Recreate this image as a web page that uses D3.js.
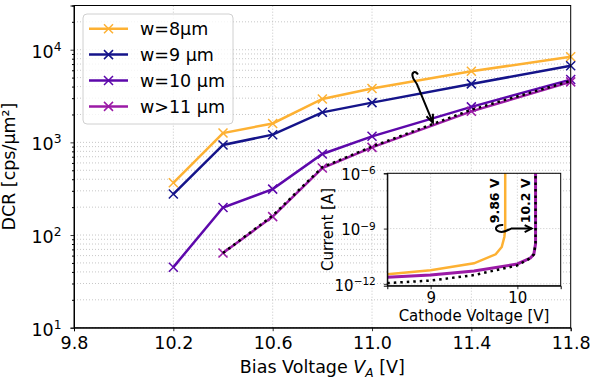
<!DOCTYPE html>
<html>
<head>
<meta charset="utf-8">
<script src="https://cdn.jsdelivr.net/npm/d3@7"></script>
<style>
  body { margin: 0; background: #fff; }
  text { font-family: "DejaVu Sans", sans-serif; }
</style>
</head>
<body>
<svg id="chart" width="590" height="383"></svg>
<script>
// ** Data (main plot) **
const biasV = [10.2, 10.4, 10.6, 10.8, 11.0, 11.4, 11.8];
const dcrW8  = [366, 1260, 1600, 2940, 3810, 5860, 8380];
const dcrW9  = [277, 938, 1211, 2110, 2685, 4276, 6700];
const dcrW10 = [45, 198, 313, 750, 1162, 2415, 4760];
const dcrW11 = [null, 64, 158, 528, 883, 2163, 4500];
const simBiasV = [10.4, 10.6, 10.8, 11.0, 11.4, 11.8];
const simDCR   = [64, 162, 540, 900, 2250, 4600];
const seriesNames = ["w=8μm", "w=9 μm", "w=10 μm", "w>11 μm"];
const xTicks = [9.8, 10.2, 10.6, 11.0, 11.4, 11.8];
const yTicks = [10, 100, 1000, 10000];

// ** Data (inset) **
const insetV8  = [8.5, 9.0, 9.5, 9.75, 9.82, 9.85, 9.86, 9.86];
const insetI8  = [3.3e-12, 5.5e-12, 1.3e-11, 4e-11, 1e-10, 3.5e-10, 1e-9, 1e-5];
const insetV11 = [8.5, 9.0, 9.5, 10.0, 10.15, 10.19, 10.21, 10.21];
const insetI11 = [2.3e-12, 3e-12, 5e-12, 1.2e-11, 2.5e-11, 4e-11, 1.5e-10, 1e-5];
const insetVSim = [8.5, 9.0, 9.5, 10.0, 10.15, 10.19, 10.21, 10.21];
const insetISim = [1.1e-12, 1.5e-12, 3e-12, 1e-11, 2.5e-11, 4e-11, 1.5e-10, 1e-5];
const insetXTicks = [9, 10];
const insetYTicks = [1e-12, 1e-9, 1e-6];

// ** Constants **
const colors = ["#fdb133", "#15148a", "#5d08ab", "#9b1aa6"];
const gridColor = "#b9b9b9";
const fontSize = 17.5;
const insetFont = 15;

const svg = d3.select("#chart");

// ** Scales **
const x = d3.scaleLinear([9.8, 11.8], [74, 570.7]);
const y = d3.scaleLog([10, 30000], [327.7, 5.5]);

// minor log values for grid / ticks
const yMinor = [];
for (let e = 1; e <= 4; e++) {
  for (let k = 2; k <= 9; k++) {
    const v = k * Math.pow(10, e);
    if (v <= 30000) yMinor.push(v);
  }
}

// ** Grid **
const grid = svg.append("g").attr("stroke", gridColor).attr("stroke-width", 0.8)
  .attr("stroke-dasharray", "1,2");
yTicks.concat(yMinor).forEach(function(v) {
  grid.append("line").attr("x1", x.range()[0]).attr("x2", x.range()[1])
    .attr("y1", y(v)).attr("y2", y(v));
});
xTicks.slice(1, -1).forEach(function(v) {
  grid.append("line").attr("y1", y.range()[0]).attr("y2", y.range()[1])
    .attr("x1", x(v)).attr("x2", x(v));
});

// ** Series **
const series = [dcrW8, dcrW9, dcrW10, dcrW11].map(function(vals, i) {
  return { name: seriesNames[i], color: colors[i],
           pts: biasV.map(function(b, j) { return [b, vals[j]]; }) };
});

const line = d3.line()
  .defined(function(d) { return d[1] != null; })
  .x(function(d) { return x(d[0]); })
  .y(function(d) { return y(d[1]); });

function drawCross(g, cx, cy, r, color) {
  g.append("path")
    .attr("d", "M" + (cx - r) + "," + (cy - r) + "L" + (cx + r) + "," + (cy + r) +
               "M" + (cx - r) + "," + (cy + r) + "L" + (cx + r) + "," + (cy - r))
    .attr("stroke", color).attr("stroke-width", 1.5).attr("fill", "none");
}

series.forEach(function(s) {
  svg.append("path").datum(s.pts).attr("d", line)
    .attr("fill", "none").attr("stroke", s.color).attr("stroke-width", 2.5);
  s.pts.filter(function(d) { return d[1] != null; }).forEach(function(d) {
    drawCross(svg, x(d[0]), y(d[1]), 4.5, s.color);
  });
});

// simulation (dotted black)
svg.append("path").datum(simBiasV.map(function(b, j) { return [b, simDCR[j]]; }))
  .attr("d", line).attr("fill", "none").attr("stroke", "#000")
  .attr("stroke-width", 2.5).attr("stroke-dasharray", "2.5,4");

// ** Axes **
function supLabel(sel, base, exp) {
  sel.text(null);
  sel.append("tspan").text(base);
  sel.append("tspan").attr("dy", "-0.55em").attr("font-size", "0.7em").text(exp);
}

const xAxis = svg.append("g").attr("transform", "translate(0," + y.range()[0] + ")")
  .call(d3.axisBottom(x).tickValues(xTicks).tickFormat(d3.format(".1f"))
        .tickSize(3.5).tickPadding(5));
xAxis.selectAll("text").attr("font-size", fontSize).attr("font-family", "DejaVu Sans");

const yAxis = svg.append("g").attr("transform", "translate(" + x.range()[0] + ",0)")
  .call(d3.axisLeft(y).tickValues(yTicks).tickSize(3.5).tickPadding(9));
yAxis.selectAll("text").attr("font-size", fontSize).attr("font-family", "DejaVu Sans")
  .attr("dy", "0.42em")
  .each(function(d) { supLabel(d3.select(this), "10", Math.round(Math.log10(d))); });

svg.append("g").attr("transform", "translate(" + x.range()[0] + ",0)")
  .call(d3.axisLeft(y).tickValues(yMinor).tickSize(2).tickFormat(""))
  .call(function(g) { g.select(".domain").remove(); });

[xAxis, yAxis].forEach(function(a) {
  a.selectAll(".tick line").attr("stroke-width", 0.8);
});

// frame
svg.append("rect").attr("x", x.range()[0]).attr("y", y.range()[1])
  .attr("width", x.range()[1] - x.range()[0]).attr("height", y.range()[0] - y.range()[1])
  .attr("fill", "none").attr("stroke", "#000").attr("stroke-width", 1);

// axis labels
const xl = svg.append("text").attr("x", (x.range()[0] + x.range()[1]) / 2).attr("y", 373)
  .attr("text-anchor", "middle").attr("font-size", fontSize);
xl.append("tspan").text("Bias Voltage ");
xl.append("tspan").attr("font-style", "italic").text("V");
xl.append("tspan").attr("font-style", "italic").attr("font-size", "0.7em").attr("dy", "0.3em").text("A");
xl.append("tspan").attr("dy", "-0.21em").text(" [V]");

svg.append("text").attr("transform", "translate(15," + ((y.range()[0] + y.range()[1]) / 2) + ") rotate(-90)")
  .attr("text-anchor", "middle").attr("font-size", fontSize).text("DCR [cps/μm²]");

// main arrow with curl
(function() {
  const tx = x(11.185), ty = y(4000), hx = x(11.245), hy = y(1633);
  svg.append("path")
    .attr("d", "M" + (tx) + "," + (ty - 12) +
               "C" + (tx - 3) + "," + (ty - 17) + " " + (tx - 7) + "," + (ty - 14) + " " + (tx - 5) + "," + (ty - 9) +
               "C" + (tx - 4) + "," + (ty - 6) + " " + (tx - 1) + "," + (ty - 4) + " " + tx + "," + ty +
               "L" + hx + "," + hy)
    .attr("fill", "none").attr("stroke", "#000").attr("stroke-width", 2);
  const ang = Math.atan2(hy - ty, hx - tx);
  const L = 9;
  const a1 = ang + Math.PI - 0.4, a2 = ang + Math.PI + 0.4;
  svg.append("path")
    .attr("d", "M" + (hx + L * Math.cos(a1)) + "," + (hy + L * Math.sin(a1)) + "L" + hx + "," + hy +
               "L" + (hx + L * Math.cos(a2)) + "," + (hy + L * Math.sin(a2)))
    .attr("fill", "none").attr("stroke", "#000").attr("stroke-width", 2);
})();

// ** Legend **
const legend = svg.append("g");
legend.append("rect").attr("x", 83).attr("y", 14).attr("width", 150).attr("height", 110)
  .attr("rx", 4).attr("fill", "#fff").attr("fill-opacity", 0.8)
  .attr("stroke", "#d0d0d0").attr("stroke-width", 1);
series.forEach(function(s, i) {
  const ly = 28.7 + i * 25.9;
  legend.append("line").attr("x1", 89).attr("x2", 128).attr("y1", ly).attr("y2", ly)
    .attr("stroke", s.color).attr("stroke-width", 2.5);
  drawCross(legend, 108.5, ly, 4.5, s.color);
  legend.append("text").attr("x", 140).attr("y", ly + 6.5).attr("font-size", fontSize).text(s.name);
});

// ** Inset **
const xi = d3.scaleLinear([8.5, 10.5], [387.3, 560.7]);
const yi = d3.scaleLog([Math.pow(10, -12.1), 1e-6], [285.7, 173.3]);
const inset = svg.append("g");

inset.append("rect").attr("x", xi.range()[0]).attr("y", yi.range()[1])
  .attr("width", xi.range()[1] - xi.range()[0]).attr("height", yi.range()[0] - yi.range()[1])
  .attr("fill", "#fff");

svg.append("clipPath").attr("id", "insetClip").append("rect")
  .attr("x", xi.range()[0]).attr("y", yi.range()[1])
  .attr("width", xi.range()[1] - xi.range()[0]).attr("height", yi.range()[0] - yi.range()[1]);

const igrid = inset.append("g").attr("stroke", gridColor).attr("stroke-width", 0.8)
  .attr("stroke-dasharray", "1,2");
insetXTicks.forEach(function(v) {
  igrid.append("line").attr("x1", xi(v)).attr("x2", xi(v)).attr("y1", yi.range()[0]).attr("y2", yi.range()[1]);
});
insetYTicks.forEach(function(v) {
  igrid.append("line").attr("y1", yi(v)).attr("y2", yi(v)).attr("x1", xi.range()[0]).attr("x2", xi.range()[1]);
});

const iline = d3.line().x(function(d) { return xi(d[0]); }).y(function(d) { return yi(d[1]); });
const icurves = inset.append("g").attr("clip-path", "url(#insetClip)");
icurves.append("path").datum(insetV8.map(function(v, j) { return [v, insetI8[j]]; }))
  .attr("d", iline).attr("fill", "none").attr("stroke", colors[0]).attr("stroke-width", 2.5);
icurves.append("path").datum(insetV11.map(function(v, j) { return [v, insetI11[j]]; }))
  .attr("d", iline).attr("fill", "none").attr("stroke", colors[3]).attr("stroke-width", 3);
icurves.append("path").datum(insetVSim.map(function(v, j) { return [v, insetISim[j]]; }))
  .attr("d", iline).attr("fill", "none").attr("stroke", "#000").attr("stroke-width", 2.5)
  .attr("stroke-dasharray", "2.5,4");

const ixAxis = inset.append("g").attr("transform", "translate(0," + yi.range()[0] + ")")
  .call(d3.axisBottom(xi).tickValues(insetXTicks).tickFormat(d3.format("d")).tickSize(3.5).tickPadding(3));
ixAxis.selectAll("text").attr("font-size", insetFont).attr("font-family", "DejaVu Sans");
const iyAxis = inset.append("g").attr("transform", "translate(" + xi.range()[0] + ",0)")
  .call(d3.axisLeft(yi).tickValues(insetYTicks).tickSize(3.5).tickPadding(8));
iyAxis.selectAll("text").attr("font-size", insetFont).attr("font-family", "DejaVu Sans")
  .attr("dy", "0.42em")
  .each(function(d) { supLabel(d3.select(this), "10", "\u2212" + Math.round(-Math.log10(d))); });
[ixAxis, iyAxis].forEach(function(a) { a.selectAll(".tick line").attr("stroke-width", 0.8); });

inset.append("rect").attr("x", xi.range()[0]).attr("y", yi.range()[1])
  .attr("width", xi.range()[1] - xi.range()[0]).attr("height", yi.range()[0] - yi.range()[1])
  .attr("fill", "none").attr("stroke", "#000").attr("stroke-width", 1);

inset.append("text").attr("x", (xi.range()[0] + xi.range()[1]) / 2).attr("y", 321)
  .attr("text-anchor", "middle").attr("font-size", insetFont).text("Cathode Voltage [V]");
inset.append("text").attr("transform", "translate(333," + ((yi.range()[0] + yi.range()[1]) / 2) + ") rotate(-90)")
  .attr("text-anchor", "middle").attr("font-size", insetFont).text("Current [A]");

// breakdown labels
inset.append("text").attr("transform", "translate(" + (xi(9.74) + 4.5) + "," + yi(3.2e-8) + ") rotate(-90)")
  .attr("text-anchor", "middle").attr("font-size", 12.5).attr("font-weight", "bold").text("9.86 V");
inset.append("text").attr("transform", "translate(" + (xi(10.09) + 4.5) + "," + yi(3.2e-8) + ") rotate(-90)")
  .attr("text-anchor", "middle").attr("font-size", 12.5).attr("font-weight", "bold").text("10.2 V");

// inset arrow with curl around the orange curve
(function() {
  const cx = xi(9.86), cy = yi(1e-9), hx = xi(10.165);
  inset.append("path")
    .attr("d", "M" + (cx - 2) + "," + (cy - 3.5) +
               "C" + (cx - 9) + "," + (cy - 4) + " " + (cx - 12) + "," + (cy + 1) + " " + (cx - 6) + "," + (cy + 3) +
               "C" + (cx - 1) + "," + (cy + 4.5) + " " + (cx + 3) + "," + (cy + 1) + " " + (cx + 6) + "," + cy +
               "L" + hx + "," + cy)
    .attr("fill", "none").attr("stroke", "#000").attr("stroke-width", 2);
  inset.append("path")
    .attr("d", "M" + (hx - 7) + "," + (cy - 3.5) + "L" + hx + "," + cy + "L" + (hx - 7) + "," + (cy + 3.5))
    .attr("fill", "none").attr("stroke", "#000").attr("stroke-width", 2);
})();
</script>
</body>
</html>
